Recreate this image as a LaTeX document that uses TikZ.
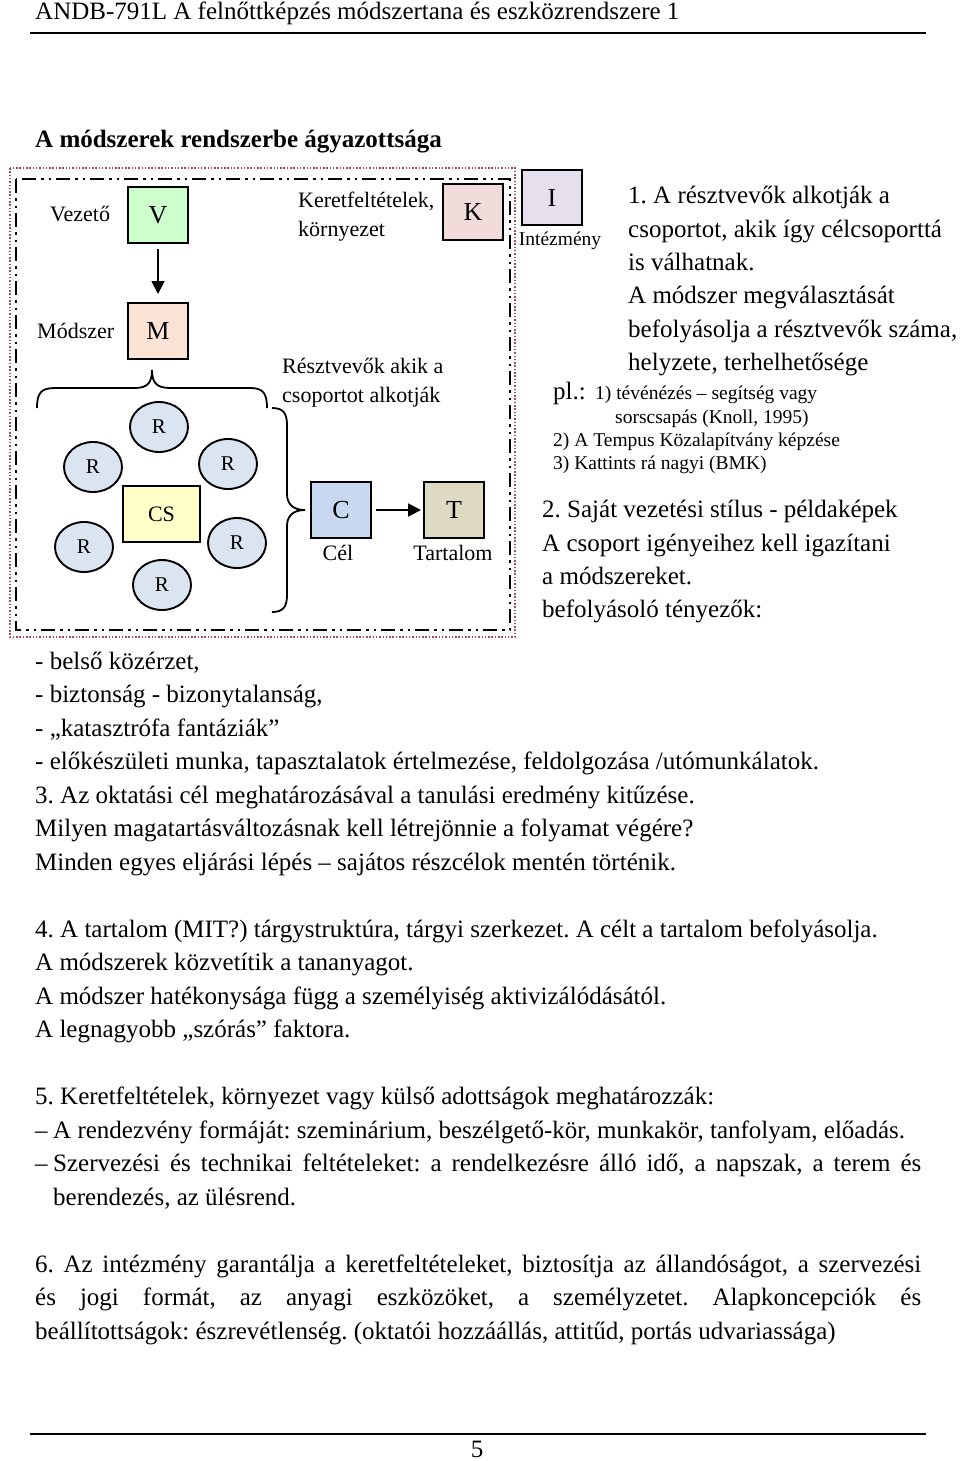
\documentclass[tikz,border=0pt]{standalone}
\usepackage{fontspec}
\setmainfont{Liberation Serif}
\usetikzlibrary{arrows.meta,shapes.geometric}
\definecolor{cV}{RGB}{204,255,204}
\definecolor{cM}{RGB}{251,228,213}
\definecolor{cK}{RGB}{242,220,219}
\definecolor{cI}{RGB}{229,224,236}
\definecolor{cCS}{RGB}{255,255,200}
\definecolor{cR}{RGB}{219,229,241}
\definecolor{cC}{RGB}{198,217,241}
\definecolor{cT}{RGB}{221,217,195}
\definecolor{cDot}{RGB}{160,80,80}
\frenchspacing
\begin{document}
\begin{tikzpicture}[x=1pt,y=-1pt,
  txt/.style={anchor=base west, inner sep=0pt, font=\fontsize{25}{30}\selectfont},
  dtxt/.style={txt, font=\fontsize{22}{26}\selectfont},
  smalltxt/.style={txt, font=\fontsize{19.5}{23}\selectfont},
  boxnode/.style={draw, line width=2pt, minimum width=60pt, minimum height=56pt, inner sep=0pt, font=\fontsize{26}{30}\selectfont},
  rell/.style={draw, ellipse, line width=1.9pt, fill=cR, minimum width=58pt, minimum height=50pt, inner sep=0pt, font=\fontsize{21}{25}\selectfont},
  arr/.style={line width=1.8pt, -{Triangle[length=13pt,width=13pt]}},
  brc/.style={line width=1.8pt}
]
\useasboundingbox (0,0) rectangle (960,1461);
\fill[white] (0,0) rectangle (960,1461);

% header
\node[txt] (hdr) at (35,20) {ANDB-791L A felnőttképzés módszertana és eszközrendszere 1};
\draw[line width=2.5pt] (30,33) -- (926,33);
\node[txt, font=\fontsize{25}{30}\selectfont\bfseries] (title) at (35,147) {A módszerek rendszerbe ágyazottsága};

% frames
\draw[cDot, line width=1.5pt, dash pattern=on 1.5pt off 1.8pt] (10,168) rectangle (515,637);
\draw[line width=2.5pt, dash pattern=on 14pt off 5pt on 2.5pt off 5pt on 2.5pt off 5pt] (16,179) rectangle (510,630);

% boxes
\node[boxnode, fill=cV] (V) at (158,215) {V};
\node[boxnode, fill=cM] (M) at (158,331) {M};
\node[boxnode, fill=cK] (K) at (473,212) {K};
\node[boxnode, fill=cC] (C) at (341,510) {C};
\node[boxnode, fill=cT] (T) at (454,510) {T};
\node[boxnode, fill=cI, minimum height=55pt] (I) at (552,197.5) {I};
\node[boxnode, fill=cCS, minimum width=77pt, font=\fontsize{22}{26}\selectfont] (CS) at (161.5,514) {CS};

\node[rell] (R1) at (159,427) {R};
\node[rell] (R2) at (93,467) {R};
\node[rell] (R3) at (228,464) {R};
\node[rell] (R4) at (84,547) {R};
\node[rell] (R5) at (237,543) {R};
\node[rell] (R6) at (162,585) {R};

\draw[arr, shorten <=5pt, shorten >=8pt] (V) -- (M);
\draw[arr, shorten <=4pt, shorten >=2pt] (C) -- (T);

% braces
\draw[brc] (37,408) .. controls (37,393) and (41,388) .. (55,388) -- (135,388)
  .. controls (148,388) and (152,382) .. (152,370)
  .. controls (152,382) and (156,388) .. (170,388) -- (250,388)
  .. controls (263,388) and (267,393) .. (267,408);
\draw[brc] (272,408) .. controls (283,408) and (287,413) .. (287,425) -- (287,494)
  .. controls (287,504) and (293,510) .. (305,510)
  .. controls (293,510) and (287,516) .. (287,526) -- (287,595)
  .. controls (287,607) and (283,612) .. (272,612);

% diagram labels
\node[dtxt] (lV) at (50,221) {Vezető};
\node[dtxt] (lM) at (37,338) {Módszer};
\node[dtxt] (lK1) at (298,207) {Keretfeltételek,};
\node[dtxt] (lK2) at (298,236) {környezet};
\node[dtxt] (lR1) at (282,373) {Résztvevők akik a};
\node[dtxt] (lR2) at (282,402) {csoportot alkotják};
\node[dtxt, anchor=base] (lC) at (338,560) {Cél};
\node[dtxt, anchor=base] (lT) at (453,560) {Tartalom};
\node[smalltxt, anchor=base] (lI) at (560,245) {Intézmény};

% right block
\node[txt] (r1) at (628,203) {1. A résztvevők alkotják a};
\node[txt] (r2) at (628,237) {csoportot, akik így célcsoporttá};
\node[txt] (r3) at (628,270) {is válhatnak.};
\node[txt] (r4) at (628,303) {A módszer megválasztását};
\node[txt] (r5) at (628,337) {befolyásolja a résztvevők száma,};
\node[txt] (r6) at (628,370) {helyzete, terhelhetősége};
\node[txt] (p0) at (553,399) {pl.:};
\node[smalltxt] (p1) at (595,399) {1) tévénézés – segítség vagy};
\node[smalltxt] (p2) at (615,423) {sorscsapás (Knoll, 1995)};
\node[smalltxt] (p3) at (553,446) {2) A Tempus Közalapítvány képzése};
\node[smalltxt] (p4) at (553,469) {3) Kattints rá nagyi (BMK)};

\node[txt] (s1) at (542,517) {2. Saját vezetési stílus - példaképek};
\node[txt] (s2) at (542,551) {A csoport igényeihez kell igazítani};
\node[txt] (s3) at (542,584) {a módszereket.};
\node[txt] (s4) at (542,617) {befolyásoló tényezők:};

% body
\node[txt] (b1) at (35,669) {- belső közérzet,};
\node[txt] (b2) at (35,702.5) {- biztonság - bizonytalanság,};
\node[txt] (b3) at (35,736) {- „katasztrófa fantáziák”};
\node[txt] (b4) at (35,769.5) {- előkészületi munka, tapasztalatok értelmezése, feldolgozása /utómunkálatok.};
\node[txt] (b5) at (35,803) {3. Az oktatási cél meghatározásával a tanulási eredmény kitűzése.};
\node[txt] (b6) at (35,836.5) {Milyen magatartásváltozásnak kell létrejönnie a folyamat végére?};
\node[txt] (b7) at (35,870) {Minden egyes eljárási lépés – sajátos részcélok mentén történik.};
\node[txt] (b8) at (35,937) {4. A tartalom (MIT?) tárgystruktúra, tárgyi szerkezet. A célt a tartalom befolyásolja.};
\node[txt] (b9) at (35,970.5) {A módszerek közvetítik a tananyagot.};
\node[txt] (b10) at (35,1004) {A módszer hatékonysága függ a személyiség aktivizálódásától.};
\node[txt] (b11) at (35,1037.5) {A legnagyobb „szórás” faktora.};
\node[txt] (b12) at (35,1104.5) {5. Keretfeltételek, környezet vagy külső adottságok meghatározzák:};
\node[txt] (d1) at (35,1138) {–};
\node[txt] (b13) at (53,1138) {A rendezvény formáját: szeminárium, beszélgető-kör, munkakör, tanfolyam, előadás.};
\node[txt] (d2) at (35,1171.5) {–};
\node[txt] (b14) at (53,1171.5) {\makebox[868pt][s]{Szervezési és technikai feltételeket: a rendelkezésre álló idő, a napszak, a terem és}};
\node[txt] (b15) at (53,1205) {berendezés, az ülésrend.};
\node[txt] (b16) at (35,1272) {\makebox[886pt][s]{6. Az intézmény garantálja a keretfeltételeket, biztosítja az állandóságot, a szervezési}};
\node[txt] (b17) at (35,1305.5) {\makebox[886pt][s]{és jogi formát, az anyagi eszközöket, a személyzetet. Alapkoncepciók és}};
\node[txt] (b18) at (35,1339) {beállítottságok: észrevétlenség. (oktatói hozzáállás, attitűd, portás udvariassága)};

\draw[line width=2.5pt] (30,1434) -- (926,1434);
\node[txt, anchor=base] (pg) at (477,1457) {5};
\end{tikzpicture}
\end{document}
